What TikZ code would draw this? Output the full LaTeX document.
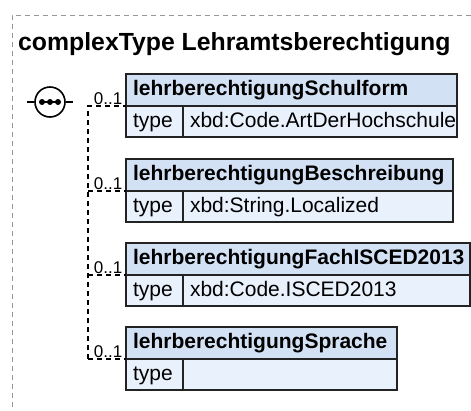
\documentclass[tikz,border=0pt]{standalone}
\usepackage{fontspec}
\setmainfont{Liberation Sans}
\usetikzlibrary{positioning}

\definecolor{hdrfill}{RGB}{211,225,245}
\definecolor{rowfill}{RGB}{233,241,252}
\definecolor{boxline}{RGB}{35,35,35}
\definecolor{framegray}{RGB}{150,150,150}

\begin{document}
\begin{tikzpicture}[x=1pt, y=-1pt]

        \tikzstyle{hdr} = [rectangle, draw=boxline, line width=1.6pt, fill=hdrfill, outer sep=0pt, inner xsep=7pt, minimum height=32pt, text height=15pt, text depth=4pt, align=left, font=\bfseries\fontsize{21}{25}\selectfont]
        \tikzstyle{typecell} = [rectangle, draw=boxline, line width=1.6pt, fill=rowfill, outer sep=0pt, inner xsep=7pt, minimum height=31pt, text height=15pt, text depth=4pt, text width=43pt, align=left, font=\fontsize{21}{25}\selectfont]
        \tikzstyle{valcell} = [typecell]
        \tikzstyle{mult} = [anchor=south east, inner xsep=3pt, inner ysep=1pt, font=\fontsize{17}{20}\selectfont]
        \tikzstyle{link} = [line width=1.4pt, dash pattern=on 5pt off 4pt]
        \tikzstyle{frame} = [line width=1pt, draw=framegray, dash pattern=on 5pt off 4pt]

        \useasboundingbox (0,0) rectangle (471,410);
        \draw [frame] (471,15) -| (12,410);

        \node (title) [anchor=base west, inner sep=0pt, font=\bfseries\fontsize{24.8}{29}\selectfont] at (18,50) {complexType Lehramtsberechtigung};

        % sequence
        \node (seq) [circle, draw=black, line width=1.6pt, fill=white, minimum size=30pt, inner sep=0pt] at (50,102) {};
        \draw [line width=1.6pt] ([xshift=-7pt]seq.west) -- (seq.west);
        \draw [line width=1.6pt] (seq.east) -- ([xshift=7pt]seq.east);
        \draw [line width=1.5pt] ([xshift=-9pt]seq.center) -- ([xshift=9pt]seq.center);
        \foreach \dx in {-8,0,8}
            \fill ([xshift=\dx pt]seq.center) circle (3pt);

        \node (hdrA) [hdr, anchor=north west, text width=317pt] at (126,74) {lehrberechtigungSchulform};
        \node (typA) [typecell, below right=0pt and 0pt of hdrA.south west] {type};
        \node (valA) [valcell, right=0pt of typA, text width=260pt] {xbd:Code.ArtDerHochschule};

        \node (hdrB) [hdr, below right=22pt and 0pt of typA.south west, text width=313pt] {lehrberechtigungBeschreibung};
        \node (typB) [typecell, below right=0pt and 0pt of hdrB.south west] {type};
        \node (valB) [valcell, right=0pt of typB, text width=256pt] {xbd:String.Localized};

        \node (hdrC) [hdr, below right=21pt and 0pt of typB.south west, text width=330pt] {lehrberechtigungFachISCED2013};
        \node (typC) [typecell, below right=0pt and 0pt of hdrC.south west] {type};
        \node (valC) [valcell, right=0pt of typC, text width=273pt] {xbd:Code.ISCED2013};

        \node (hdrD) [hdr, below right=21pt and 0pt of typC.south west, text width=257pt] {lehrberechtigungSprache};
        \node (typD) [typecell, below right=0pt and 0pt of hdrD.south west] {type};
        \node (valD) [valcell, right=0pt of typD, text width=200pt] {};

        \coordinate (spine) at (88,0);
        \draw [link] (spine |- hdrD.south west) |- node[mult, pos=1] {0..1} (hdrA.south west);
        \draw [link] (spine |- hdrB.south west) -- node[mult, pos=1] {0..1} (hdrB.south west);
        \draw [link] (spine |- hdrC.south west) -- node[mult, pos=1] {0..1} (hdrC.south west);
        \draw [link] (spine |- hdrD.south west) -- node[mult, pos=1] {0..1} (hdrD.south west);
    \end{tikzpicture}
\end{document}
